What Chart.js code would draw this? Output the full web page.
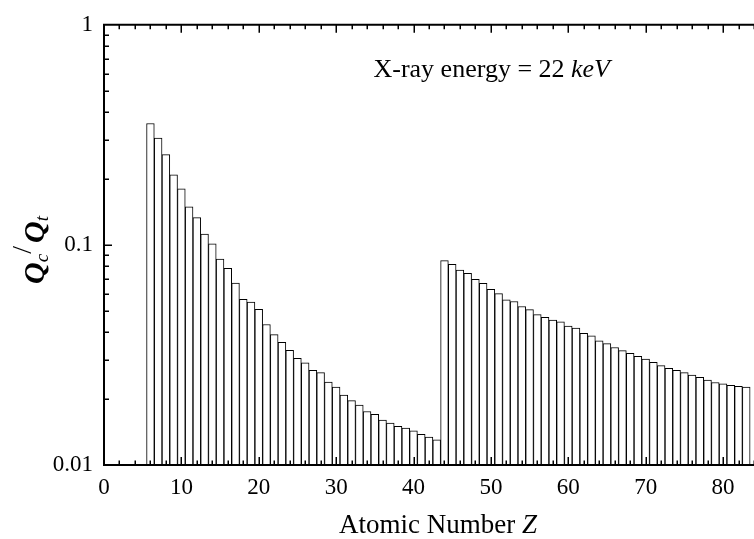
<!DOCTYPE html>
<html><head><meta charset="utf-8">
<script src="https://cdn.jsdelivr.net/npm/chart.js@4.4.1/dist/chart.umd.min.js"></script>
<style>html,body{margin:0;padding:0;background:#fff;overflow:hidden}#wrap{width:754px;height:539px;position:relative}</style>
</head><body><div id="wrap"><canvas id="c" width="754" height="539"></canvas></div>
<script>
// Atomic numbers Z (categories)
const atomicNumbers = [6,7,8,9,10,11,12,13,14,15,16,17,18,19,20,21,22,23,24,25,26,27,28,29,30,31,32,33,34,35,36,37,38,39,40,41,42,43,
  44,45,46,47,48,49,50,51,52,53,54,55,56,57,58,59,60,61,62,63,64,65,66,67,68,69,70,71,72,73,74,75,76,77,78,79,80,81,82,83];
// Qc/Qt for Z = 6..43
const ratioBelowEdge = [0.356,0.306,0.257,0.208,0.180,0.149,0.133,0.112,0.101,0.0862,0.0783,0.0671,0.0566,0.0550,0.0509,0.0435,0.0391,0.0361,0.0332,0.0305,
  0.0291,0.0269,0.0263,0.0238,0.0226,0.0208,0.0196,0.0187,0.0175,0.0170,0.0160,0.0155,0.0150,0.0147,0.0143,0.0138,0.0134,0.0130];
// Qc/Qt for Z = 44..83
const ratioAboveEdge = [0.0849,0.0815,0.0768,0.0742,0.0698,0.0669,0.0629,0.0601,0.0563,0.0553,0.0525,0.0508,0.0482,0.0469,0.0456,0.0447,0.0428,0.0419,0.0397,0.0386,
  0.0367,0.0356,0.0342,0.0331,0.0322,0.0312,0.0303,0.0293,0.0283,0.0275,0.0269,0.0263,0.0256,0.0250,0.0243,0.0237,0.0234,0.0230,0.0228,0.0226];
const xTickLabels = [0,10,20,30,40,50,60,70,80];
const yTickValues = [0.01,0.1,1];
const xRange = [0,84];
const yRange = [0.01,1];
const annotationMain = 'X-ray energy = 22 ';
const annotationUnit = 'keV';
const xTitleMain = 'Atomic Number ';
const xTitleVar = 'Z';

const ratios = ratioBelowEdge.concat(ratioAboveEdge);
const points = atomicNumbers.map((z,i)=>({x:z,y:ratios[i]}));
const SERIF = "'Liberation Serif','Times New Roman',serif";

const decor = {
  id:'decor',
  afterDraw(chart){
    const ctx = chart.ctx, ca = chart.chartArea, xs = chart.scales.x, ys = chart.scales.y;
    ctx.save();
    ctx.strokeStyle = '#000';
    // inward ticks
    ctx.lineWidth = 1.5;
    ctx.beginPath();
    for (let v = xs.min; v <= xs.max + 1e-9; v += 2) {
      const px = Math.round(xs.getPixelForValue(v)) + 0.25;
      const len = (v % 10 === 0) ? 8 : 4.5;
      ctx.moveTo(px, ca.bottom); ctx.lineTo(px, ca.bottom - len);
      ctx.moveTo(px, ca.top); ctx.lineTo(px, ca.top + len);
    }
    for (let d = 0.01; d < 1; d *= 10) {
      for (let k = 1; k <= 9; k++) {
        const v = d * k;
        const py = Math.round(ys.getPixelForValue(v)) + 0.25;
        const len = (k === 1) ? 8 : 5;
        ctx.moveTo(ca.left, py); ctx.lineTo(ca.left + len, py);
      }
    }
    ctx.stroke();
    // axis frame
    ctx.lineWidth = 2;
    ctx.beginPath();
    ctx.moveTo(ca.left, ca.top); ctx.lineTo(ca.right + 2, ca.top);
    ctx.moveTo(ca.left, ca.top - 1); ctx.lineTo(ca.left, ca.bottom + 1);
    ctx.moveTo(ca.left, ca.bottom); ctx.lineTo(ca.right + 2, ca.bottom);
    ctx.stroke();
    ctx.fillStyle = '#000';
    ctx.textBaseline = 'alphabetic';
    // annotation
    ctx.font = "26px " + SERIF;
    const w1 = ctx.measureText(annotationMain).width;
    ctx.font = "italic 26px " + SERIF;
    const w2 = ctx.measureText(annotationUnit).width;
    const endX = 610;
    ctx.font = "26px " + SERIF;
    ctx.fillText(annotationMain, endX - w1 - w2, 77);
    ctx.font = "italic 26px " + SERIF;
    ctx.fillText(annotationUnit, endX - w2, 77);
    // x title
    ctx.font = "27px " + SERIF;
    const t1 = ctx.measureText(xTitleMain).width;
    ctx.font = "italic 27px " + SERIF;
    const t2 = ctx.measureText(xTitleVar).width;
    const tEnd = 537;
    ctx.font = "27px " + SERIF;
    ctx.fillText(xTitleMain, tEnd - t1 - t2, 533);
    ctx.font = "italic 27px " + SERIF;
    ctx.fillText(xTitleVar, tEnd - t2, 533);
    // y title: Qc / Qt rotated
    ctx.save();
    ctx.translate(44, 250);
    ctx.rotate(-Math.PI/2);
    const bigQ = "bold italic 30px " + SERIF, sub = "italic 19px " + SERIF, sl = "28px " + SERIF;
    const parts = [[bigQ,'Q',0],[sub,'c',4],[sl,'/',-13],[bigQ,'Q',0],[sub,'t',4]];
    let total = 0;
    parts.forEach(p=>{ctx.font=p[0]; total += ctx.measureText(p[1]).width + (p[1]==='/'?3:0);});
    let x = -total/2;
    parts.forEach(p=>{ctx.font=p[0]; ctx.fillText(p[1], x, p[2]); x += ctx.measureText(p[1]).width + (p[1]==='/'?3:0);});
    ctx.restore();
    ctx.restore();
  }
};

new Chart(document.getElementById('c'), {
  type:'bar',
  data:{datasets:[{data:points, backgroundColor:'#ffffff', borderColor:'#000000', borderWidth:1,
    barPercentage:1, categoryPercentage:1, borderSkipped:'start'}]},
  options:{
    responsive:false, animation:false, devicePixelRatio:1,
    layout:{padding:{top:20,right:0,left:0,bottom:0}},
    plugins:{legend:{display:false}, tooltip:{enabled:false}},
    scales:{
      x:{type:'linear', min:xRange[0], max:xRange[1], offset:false,
        grid:{display:false, drawTicks:false}, border:{display:false},
        ticks:{color:'#000', font:{family:SERIF, size:23}, padding:9, maxRotation:0, autoSkip:false, callback:v=>String(v)},
        afterBuildTicks:s=>{s.ticks = xTickLabels.map(v=>({value:v}));},
        afterFit:s=>{s.height = 74;}},
      y:{type:'logarithmic', min:yRange[0], max:yRange[1],
        grid:{display:false, drawTicks:false}, border:{display:false},
        ticks:{color:'#000', font:{family:SERIF, size:23}, padding:11, autoSkip:false, callback:v=>String(v)},
        afterBuildTicks:s=>{s.ticks = yTickValues.map(v=>({value:v}));},
        afterFit:s=>{s.width = 104;}}
    }
  },
  plugins:[decor]
});
</script></body></html>
